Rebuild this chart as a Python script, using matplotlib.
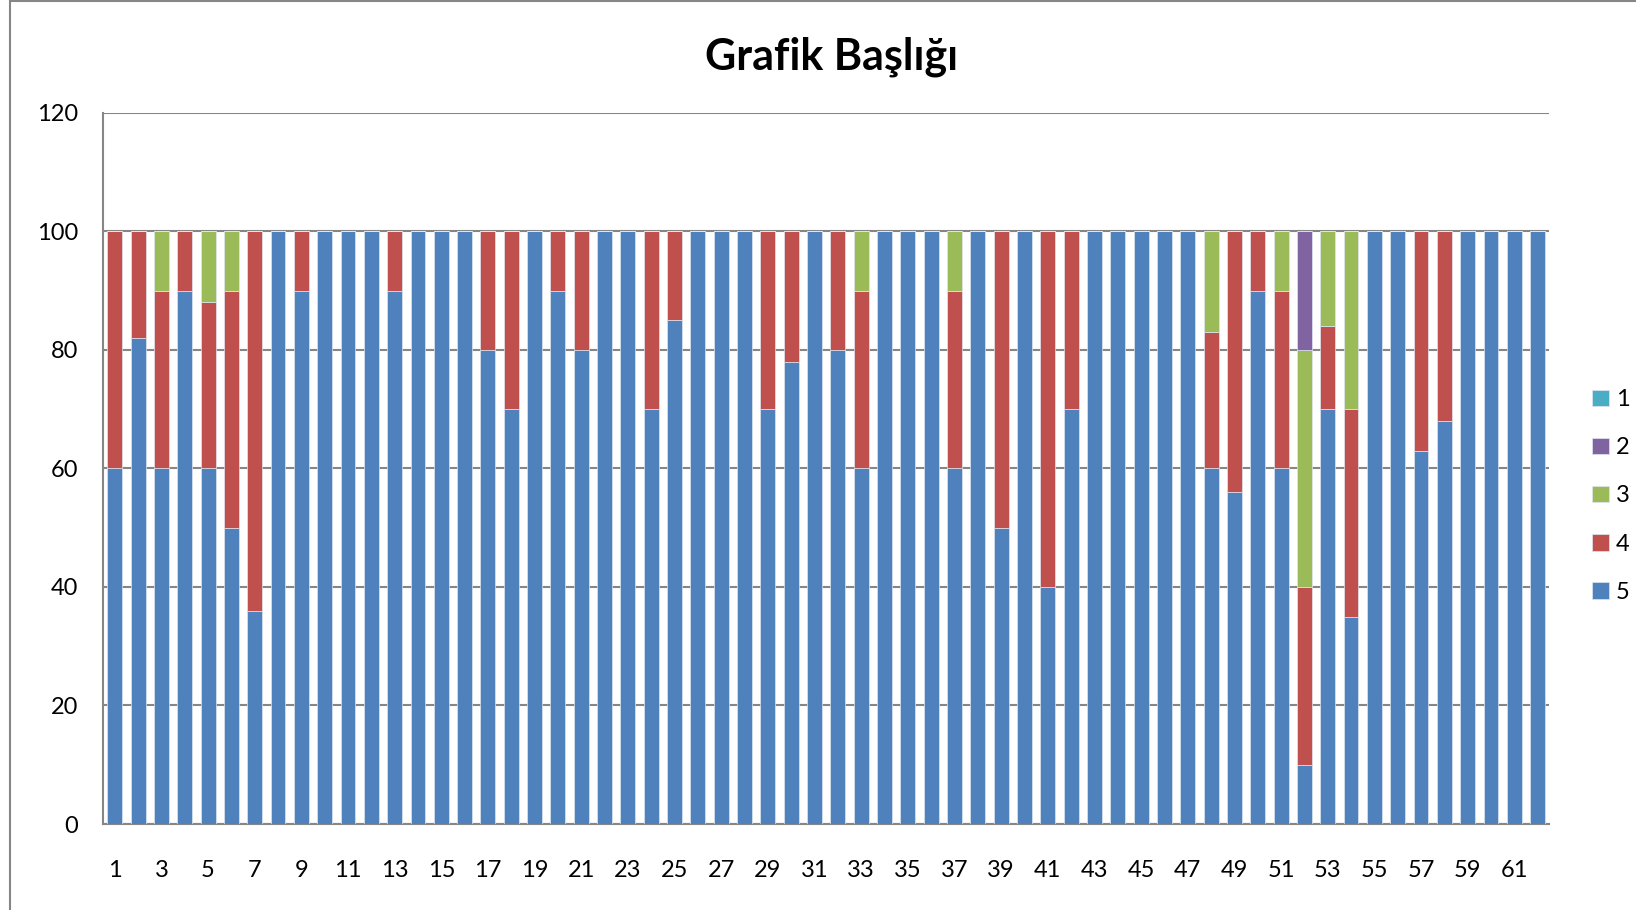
import numpy as np
import matplotlib
matplotlib.use('Agg')
import matplotlib.pyplot as plt
from matplotlib.patches import Rectangle

plt.rcParams['font.family'] = ['Lato', 'DejaVu Sans']

# Stacked series, one value per category (1..62)
categories = [str(i) for i in range(1, 63)]
s5 = [60, 82, 60, 90, 60, 50, 36, 100, 90, 100, 100, 100, 90, 100, 100, 100,
      80, 70, 100, 90, 80, 100, 100, 70, 85, 100, 100, 100, 70, 78, 100, 80,
      60, 100, 100, 100, 60, 100, 50, 100, 40, 70, 100, 100, 100, 100, 100, 60,
      56, 90, 60, 10, 70, 35, 100, 100, 63, 68, 100, 100, 100, 100]
s4 = [40, 18, 30, 10, 28, 40, 64, 0, 10, 0, 0, 0, 10, 0, 0, 0,
      20, 30, 0, 10, 20, 0, 0, 30, 15, 0, 0, 0, 30, 22, 0, 20,
      30, 0, 0, 0, 30, 0, 50, 0, 60, 30, 0, 0, 0, 0, 0, 23,
      44, 10, 30, 30, 14, 35, 0, 0, 37, 32, 0, 0, 0, 0]
s3 = [0, 0, 10, 0, 12, 10, 0, 0, 0, 0, 0, 0, 0, 0, 0, 0,
      0, 0, 0, 0, 0, 0, 0, 0, 0, 0, 0, 0, 0, 0, 0, 0,
      10, 0, 0, 0, 10, 0, 0, 0, 0, 0, 0, 0, 0, 0, 0, 17,
      0, 0, 10, 40, 16, 30, 0, 0, 0, 0, 0, 0, 0, 0]
s2 = [0] * 51 + [20] + [0] * 10
s1 = [0] * 62

series_names = ['5', '4', '3', '2', '1']
series_values = [s5, s4, s3, s2, s1]
series_colors = ['#4F81BD', '#C0504D', '#9BBB59', '#8064A2', '#4BACC6']

fig = plt.figure(figsize=(16.36, 9.10), dpi=100)
ax = fig.add_axes([0.063, 0.0945, 0.884, 0.7815])

x = np.arange(len(categories))
bottom = np.zeros(len(categories))
handles = []
for name, vals, col in zip(series_names, series_values, series_colors):
    vals = np.array(vals, dtype=float)
    h = ax.bar(x, vals, width=0.64, bottom=bottom, color=col,
               edgecolor='#dfe6f0', linewidth=0.5, label=name, zorder=3)
    handles.append(h)
    bottom += vals

ax.set_xlim(-0.5, len(categories) - 0.5)
ax.set_ylim(0, 120)
ax.set_yticks(range(0, 121, 20))
ax.set_xticks(x[::2])
ax.set_xticklabels(categories[::2])
ax.tick_params(axis='both', length=0, labelsize=17)
ax.tick_params(axis='x', pad=26)
ax.tick_params(axis='y', pad=18)
ax.yaxis.grid(True, color='#868686', linewidth=1.5, zorder=0)
ax.set_axisbelow(True)
for side in ['top', 'right']:
    ax.spines[side].set_visible(False)
for side in ['left', 'bottom']:
    ax.spines[side].set_color('#868686')
    ax.spines[side].set_linewidth(1.5)

fig.text(0.508, 0.938, 'Grafik Başlığı', ha='center', va='center',
         fontsize=31, fontweight='bold')

# Legend, top-down 1..5
leg = fig.legend(handles[::-1], series_names[::-1], loc='center left',
                 bbox_to_anchor=(0.9645, 0.455), frameon=False, fontsize=17,
                 handlelength=0.7, handleheight=0.7, labelspacing=1.15,
                 handletextpad=0.3, borderaxespad=0.2)

# Chart area border (cut off at right and bottom)
fig.patches.append(Rectangle((10.4 / 1636, -0.1), 1.2, 1.1 - 1.5 / 910,
                             transform=fig.transFigure, fill=False,
                             edgecolor='#868686', linewidth=1.5))

fig.savefig('out.png', dpi=100)
